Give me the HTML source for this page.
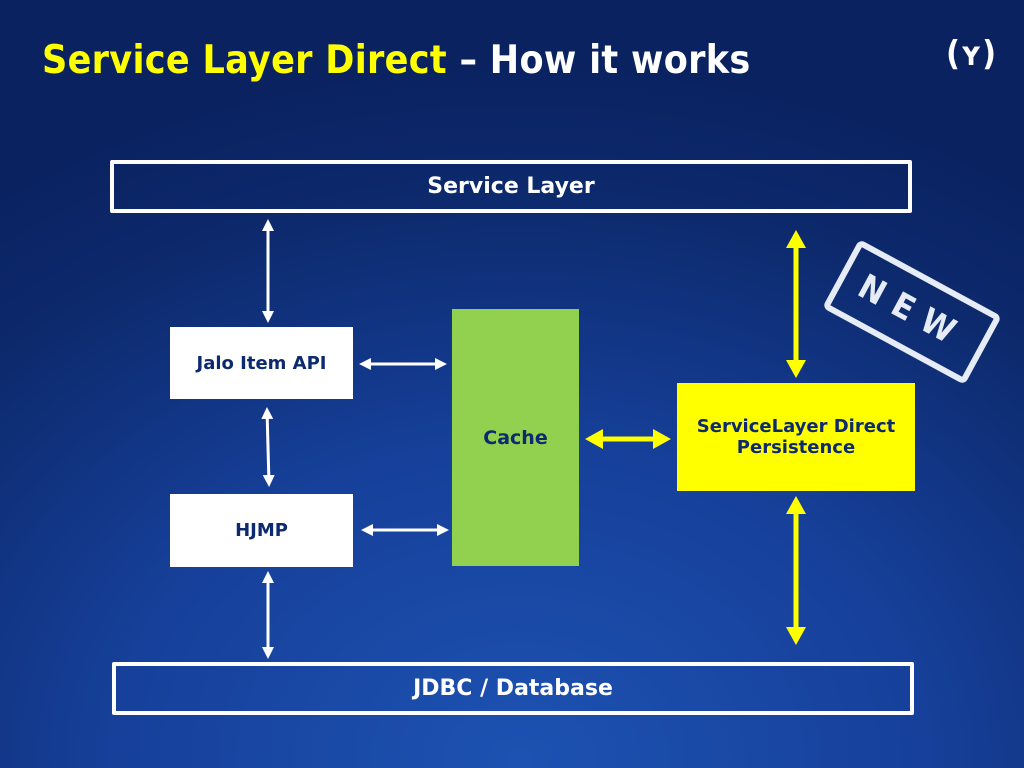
<!DOCTYPE html>
<html><head><meta charset="utf-8"><style>
html,body{margin:0;padding:0}
body{width:1024px;height:768px;position:relative;overflow:hidden;
background:radial-gradient(ellipse 900px 700px at 520px 760px,#1d52b2 0%,#16409a 45%,#0d2a6e 80%,#0a2260 100%);
font-family:"DejaVu Sans","Liberation Sans",sans-serif;font-weight:bold}
.t{position:absolute;left:42px;top:38px;font-size:39px;color:#fff;letter-spacing:0.3px;font-family:"DejaVu Sans Condensed","DejaVu Sans",sans-serif}
.t span{color:#ffff00}
.box{position:absolute;display:flex;align-items:center;justify-content:center;text-align:center;box-sizing:border-box}
.ob{border:4px solid #fff;color:#fff;font-size:22px;border-radius:2px}
.wb{background:#fff;color:#0d2a6e;font-size:18px}
svg{position:absolute;left:0;top:0}
</style></head><body>
<div class="t"><span>Service Layer Direct</span> – How it works</div>
<div style="position:absolute;left:946px;top:34px;color:#fff;font-size:34px;font-weight:bold;font-family:'DejaVu Sans Condensed',sans-serif">(ʏ)</div>
<div class="box ob" style="left:110px;top:160px;width:802px;height:53px">Service Layer</div>
<div class="box ob" style="left:112px;top:662px;width:802px;height:53px">JDBC / Database</div>
<div class="box wb" style="left:170px;top:327px;width:183px;height:72px">Jalo Item API</div>
<div class="box wb" style="left:170px;top:494px;width:183px;height:73px">HJMP</div>
<div class="box" style="left:452px;top:309px;width:127px;height:257px;background:#92d050;color:#0d2a6e;font-size:19px">Cache</div>
<div class="box" style="left:677px;top:383px;width:238px;height:108px;background:#ffff00;color:#0d2a6e;font-size:18px;line-height:21px">ServiceLayer Direct<br>Persistence</div>
<div style="position:absolute;left:831px;top:273px;width:162px;height:78px;box-sizing:border-box;border:6px solid #e6ecf5;border-radius:6px;transform:rotate(28.5deg);color:#e6ecf5;font-size:34px;display:flex;align-items:center;justify-content:center;letter-spacing:12px;font-family:'DejaVu Sans Condensed',sans-serif">NEW</div>
<svg width="1024" height="768">
<defs>
<marker id="w2" markerWidth="12" markerHeight="12" refX="9" refY="6" orient="auto-start-reverse" markerUnits="userSpaceOnUse"><path d="M0,0 L12,6 L0,12z" fill="#fff"/></marker>
<marker id="y" markerWidth="18" markerHeight="20" refX="14" refY="10" orient="auto-start-reverse" markerUnits="userSpaceOnUse"><path d="M0,0 L18,10 L0,20z" fill="#ffff00"/></marker>
</defs>
<g stroke="#fff" stroke-width="3">
<line x1="268" y1="222" x2="268" y2="320" marker-start="url(#w2)" marker-end="url(#w2)"/>
<line x1="267" y1="410" x2="269" y2="484" marker-start="url(#w2)" marker-end="url(#w2)"/>
<line x1="268" y1="574" x2="268" y2="656" marker-start="url(#w2)" marker-end="url(#w2)"/>
<line x1="362" y1="364" x2="444" y2="364" marker-start="url(#w2)" marker-end="url(#w2)"/>
<line x1="364" y1="530" x2="446" y2="530" marker-start="url(#w2)" marker-end="url(#w2)"/>
</g>
<g stroke="#ffff00" stroke-width="5">
<line x1="796" y1="234" x2="796" y2="374" marker-start="url(#y)" marker-end="url(#y)"/>
<line x1="796" y1="500" x2="796" y2="641" marker-start="url(#y)" marker-end="url(#y)"/>
<line x1="589" y1="439" x2="667" y2="439" marker-start="url(#y)" marker-end="url(#y)"/>
</g>
</svg>
</body></html>
